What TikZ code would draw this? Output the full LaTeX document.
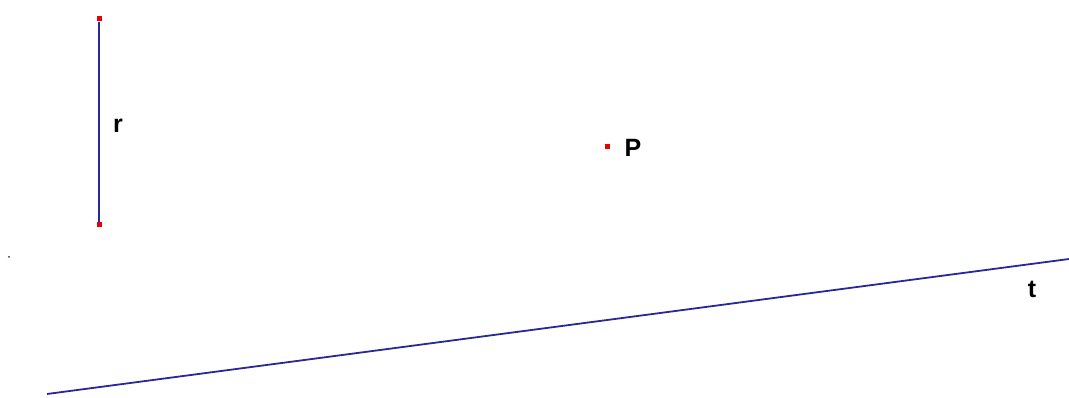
\documentclass[tikz,border=0pt]{standalone}
\usepackage{fontspec}
\setmainfont{Liberation Sans}
\definecolor{lineblue}{RGB}{40,40,150}
\definecolor{pointred}{RGB}{235,0,0}
\begin{document}
\begin{tikzpicture}[
        x=1pt, y=-1pt,
        pointbox/.style={
            rectangle,
            fill=pointred,
            inner sep=0pt,
            minimum size=5pt
        },
        strokeline/.style={
            draw=lineblue,
            line width=1.8pt
        },
        lbl/.style={
            inner sep=0pt,
            font=\fontsize{25}{30}\selectfont\bfseries
        }
    ]
        \useasboundingbox (0,0) rectangle (1069,398);

        \node[pointbox] (rtop) at (99,19) {};

        \node[pointbox] (rbot) at (99,225) {};

        \node[pointbox] (P) at (607,147) {};

        \node[lbl] (rlabel) at (118,126) {r};

        \node[lbl] (Plabel) at (633,148) {P};

        \node[lbl] (tlabel) at (1032,289) {t};

        \node[circle, fill=lineblue, inner sep=0pt, minimum size=2pt] (stray) at (9,257) {};

        \coordinate (tstart) at (47,394);
        \coordinate (tend) at (1069,259);

        \draw[strokeline] (rtop) -- (rbot);
        \draw[strokeline] (tstart) -- (tend);

    \end{tikzpicture}
\end{document}
